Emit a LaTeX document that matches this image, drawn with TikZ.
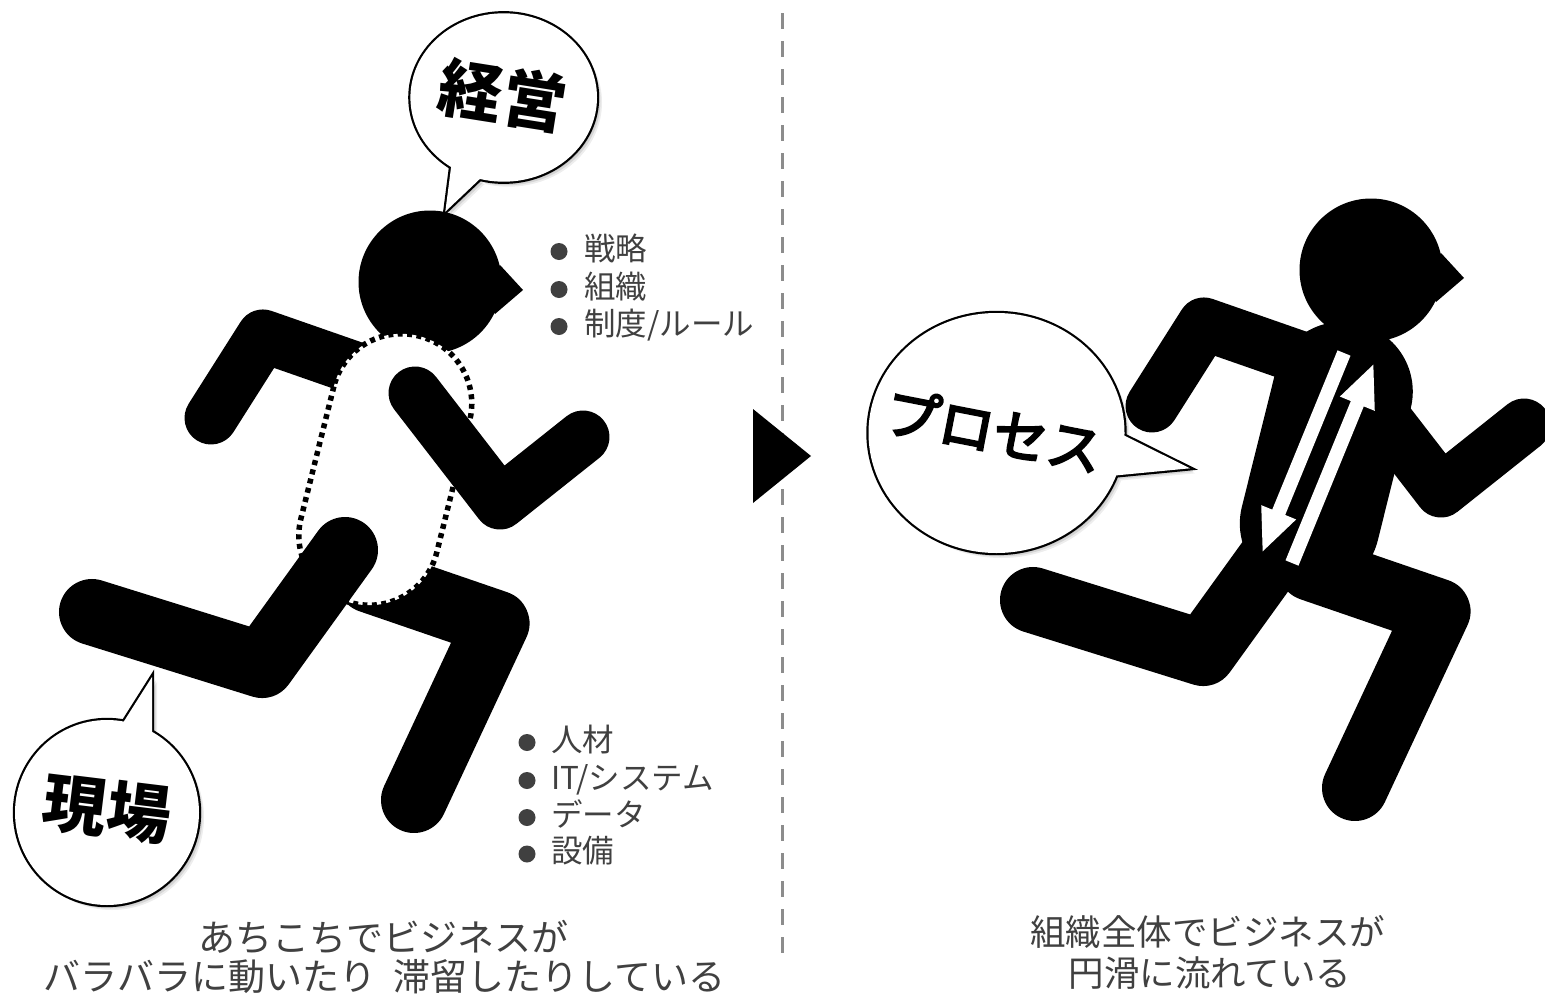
\documentclass[tikz,border=0pt]{standalone}
\usepackage{fontspec}
\newfontfamily\jp{Noto Sans CJK JP}
\newfontfamily\jpmid{Noto Sans CJK JP}[FakeBold=4]
\usetikzlibrary{arrows.meta}
\definecolor{txt}{HTML}{404040}
\definecolor{sep}{HTML}{8C8C8C}
\tikzset{
  limbarm/.style={line width=53pt, line cap=round, line join=round},
  limbleg/.style={line width=66pt, line cap=round, line join=round},
  captionL/.style={font=\jp\fontsize{37}{41}\selectfont, text=txt, anchor=base, inner sep=0pt},
  captionR/.style={font=\jp\fontsize{35.5}{40}\selectfont, text=txt, anchor=base, inner sep=0pt},
  item/.style={font=\jp\fontsize{31.5}{35}\selectfont, text=txt, anchor=base west, inner sep=0pt},
  itemdot/.style={fill=txt},
  shout/.style={font=\jp\bfseries\fontsize{64}{70}\selectfont, inner sep=0pt},
  talk/.style={font=\jpmid\fontsize{55}{60}\selectfont, inner sep=0pt},
  hollowtorso/.style={fill=white, draw=black, line width=5.5pt, dash pattern=on 5pt off 4.5pt},
  solidtorso/.style={fill=black},
  flowarrow/.style={white, line width=14pt, -{Triangle[length=44pt,width=34pt]}},
}
% stick runner: back limbs, head, torso, front limbs
\newcommand\runner[1]{%
  \draw[limbarm] (211,418) -- (263,336) -- (372,374);
  \draw[limbleg] (370,580) -- (496.5,623.4) -- (414,800);
  \fill (430,282) circle[radius=71.5];
  \fill (500,265) -- (523,290) -- (495,314) -- (480,290) -- cycle;
  \begin{scope}[shift={(385.3,469.5)}, rotate=-14]
    \path[#1, rounded corners=69.5pt] (-70,-137.6) rectangle (70,137.6);
  \end{scope}
  \draw[limbarm] (415,393) -- (500,503) -- (583,437);
  \draw[limbleg] (345,550) -- (262,665) -- (92,612);
}
% speech bubble: #1 centre, #2/#3 radii, #4 tail base, #5 tail tip, #6 tail base
\newcommand\speech[6]{%
  \foreach \o/\a in {2/0.12,3.5/0.10,5/0.07}{%
    \fill[black, opacity=\a, shift={(\o,\o)}] #1 ellipse[x radius=#2, y radius=#3] #4 -- #5 -- #6 -- cycle;
  }
  \draw[line width=4.4pt] #1 ellipse[x radius=#2, y radius=#3];
  \draw[line width=4.4pt, line join=miter] #4 -- #5 -- #6 -- cycle;
  \fill[white] #1 ellipse[x radius=#2, y radius=#3];
  \fill[white] #4 -- #5 -- #6 -- cycle;
}
\begin{document}
\begin{tikzpicture}[x=1pt, y=-1pt]
\useasboundingbox (0,0) rectangle (1545,996);

% separator and transition arrow
\coordinate (septop) at (782.5,13);
\coordinate (sepbot) at (782.5,953);
\draw[sep, line width=3.5pt, dash pattern=on 16pt off 12pt] (septop) -- (sepbot);
\fill (753,409) -- (753,503) -- (811,456) -- cycle;

% left runner with hollow torso
\runner{hollowtorso}

% right runner with solid torso
\begin{scope}[shift={(941,-12)}]
  \runner{solidtorso}
\end{scope}

% flow arrows on the right torso
\coordinate (downA) at (1344,353);
\coordinate (downB) at (1262,553);
\coordinate (upA) at (1292,563);
\coordinate (upB) at (1374,363);
\draw[flowarrow] (downA) -- (downB);
\draw[flowarrow] (upA) -- (upB);

% speech bubbles
\speech{(503.7,97.5)}{93.3}{84.2}{(452,160)}{(445.3,211.7)}{(484,175)}
\node[shout, rotate=-9] (keiei) at (503,95) {経営};

\speech{(107,812.5)}{92}{92.5}{(121,726)}{(152,677)}{(152,736)}
\node[shout, rotate=-7] (genba) at (107,809) {現場};

\speech{(996.5,433)}{128}{120}{(1119,433)}{(1190,468.3)}{(1110,476)}
\node[talk, rotate=-11] (process) at (994,430) {プロセス};

% bullet list beside the head
\fill[itemdot] (559,251.5) circle[radius=8.5];
\fill[itemdot] (559,289.5) circle[radius=8.5];
\fill[itemdot] (559,326.5) circle[radius=8.5];
\node[item] (top1) at (584,260) {戦略};
\node[item] (top2) at (584,298) {組織};
\node[item] (top3) at (584,335) {制度/ルール};

% bullet list beside the feet
\fill[itemdot] (527,742.5) circle[radius=8.5];
\fill[itemdot] (527,780.5) circle[radius=8.5];
\fill[itemdot] (527,817.5) circle[radius=8.5];
\fill[itemdot] (527,854) circle[radius=8.5];
\node[item] (bot1) at (551,751) {人材};
\node[item] (bot2) at (551,789) {IT/システム};
\node[item] (bot3) at (551,826) {データ};
\node[item] (bot4) at (551,862.5) {設備};

% captions
\node[captionL] (capL1) at (383,951) {あちこちでビジネスが};
\node[captionL] (capL2) at (384.5,990) {バラバラに動いたり\hspace{0.23em} 滞留したりしている};
\node[captionR] (capR1) at (1207.5,945) {組織全体でビジネスが};
\node[captionR] (capR2) at (1210,986.5) {円滑に流れている};
\end{tikzpicture}
\end{document}
